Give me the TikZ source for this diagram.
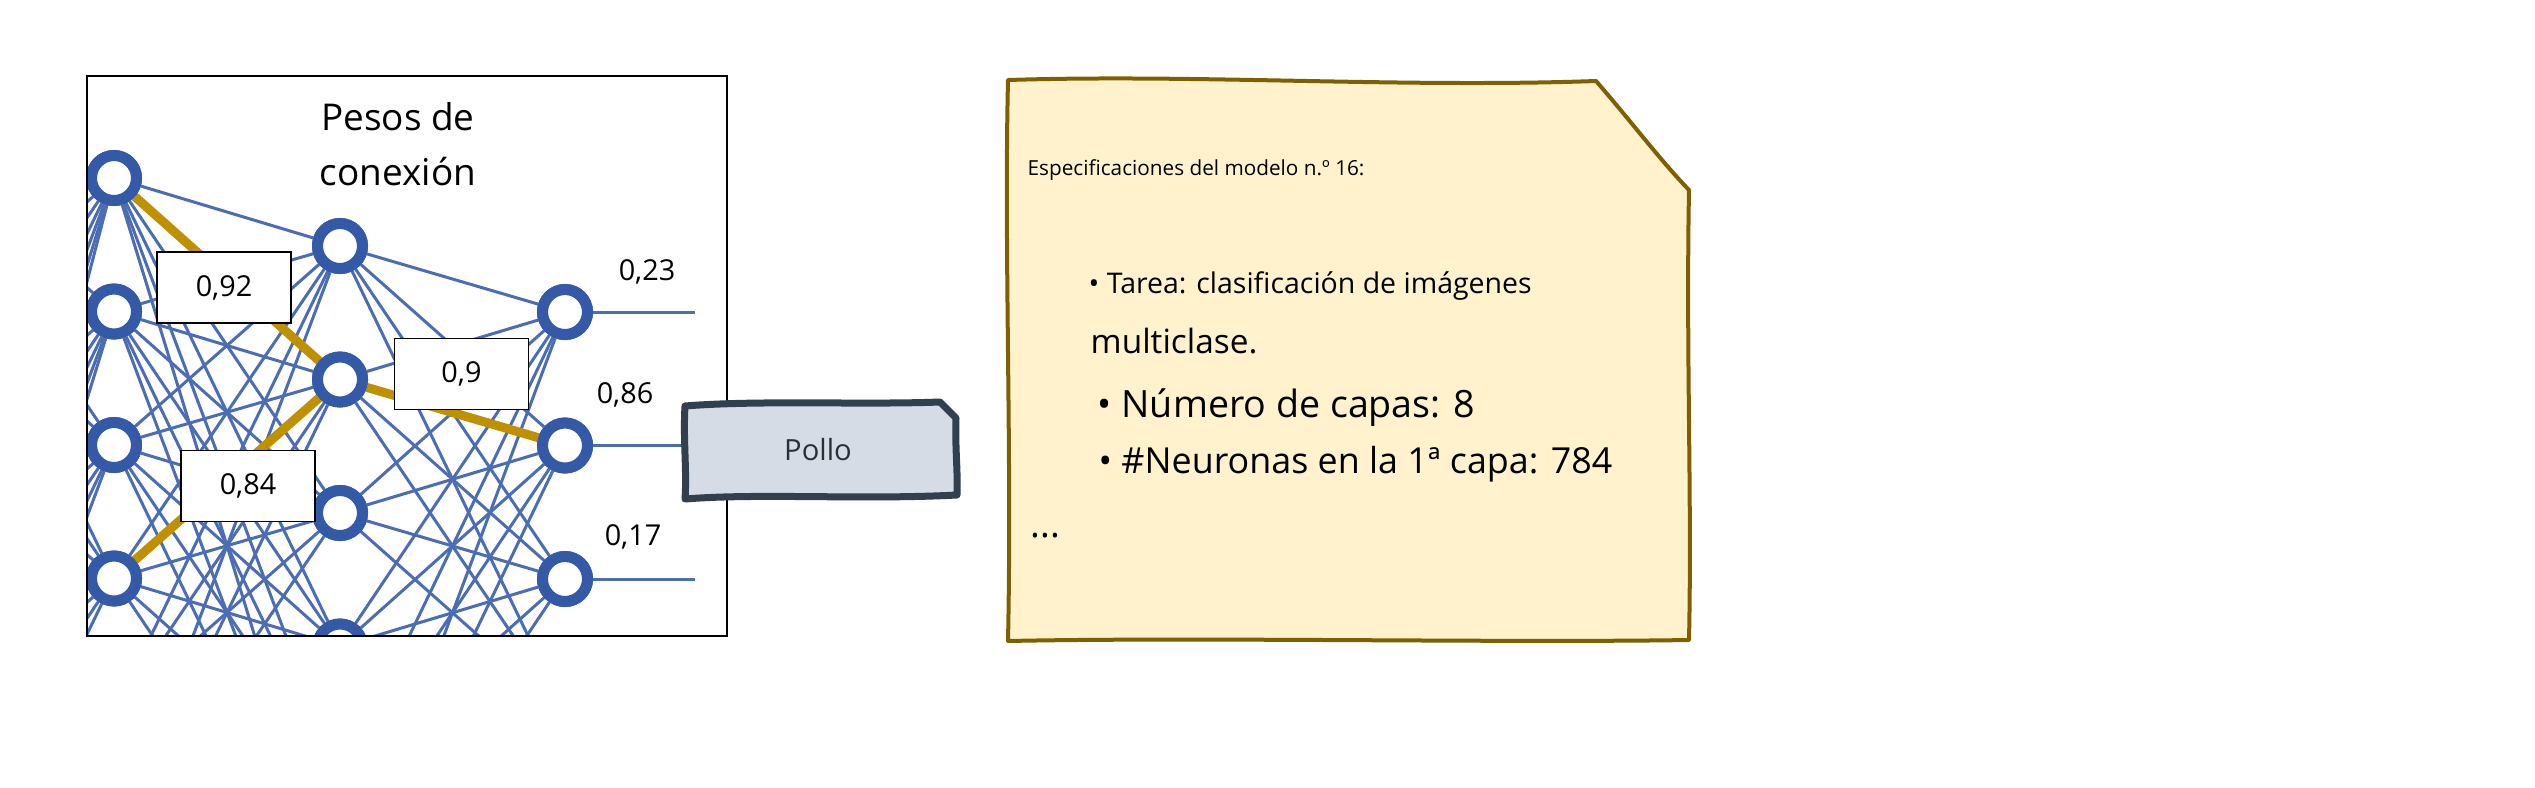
\documentclass[tikz,border=0pt]{standalone}
\usepackage{fontspec}
\setmainfont{Open Sans}
\definecolor{ringblue}{HTML}{3459A6}
\definecolor{edgeblue}{HTML}{4B6DB4}
\definecolor{goldc}{HTML}{BF9000}
\definecolor{pollofill}{HTML}{D6DCE5}
\definecolor{polloline}{HTML}{323F4F}
\definecolor{pollotext}{HTML}{2B2F36}
\definecolor{notefill}{HTML}{FFF2CC}
\definecolor{noteline}{HTML}{7F6000}
\begin{document}
\begin{tikzpicture}[x=0.1mm,y=-0.1mm,
  neuron/.style={circle,draw=ringblue,line width=1.1mm,fill=white,minimum size=4.5mm,inner sep=0pt},
  edge/.style={draw=edgeblue,line width=0.3mm},
  goldedge/.style={draw=goldc,line width=0.9mm},
  weightbox/.style={draw=black,line width=0.15mm,fill=white,minimum width=13.4mm,minimum height=7.1mm,inner sep=0pt,font=\fontsize{8.2}{10}\selectfont},
  outlabel/.style={inner sep=0pt,font=\fontsize{8.2}{10}\selectfont},
  notetext/.style={anchor=base west,inner sep=0pt}]
\useasboundingbox (0,0) rectangle (2535,787);
\fill[white] (0,0) rectangle (2535,787);

% ---------- network (clipped to frame) ----------
\begin{scope}
\clip (87,76) rectangle (727,636);
\foreach \k in {0,...,7} \node[neuron] (n0-\k) at (-112,111+133.5*\k) {};
\foreach \k in {0,...,5} \node[neuron] (n1-\k) at (114,178+133.5*\k) {};
\foreach \k in {0,...,5} \node[neuron] (n2-\k) at (340,246+133.5*\k) {};
\foreach \k in {0,...,3} \node[neuron] (n3-\k) at (565,312+133.5*\k) {};
\foreach \i in {0,...,7} \foreach \j in {0,...,5} \draw[edge] (n0-\i) -- (n1-\j);
\foreach \i in {0,...,5} \foreach \j in {0,...,5} \draw[edge] (n1-\i) -- (n2-\j);
\foreach \i in {0,...,5} \foreach \j in {0,...,3} \draw[edge] (n2-\i) -- (n3-\j);
\draw[goldedge] (n1-0) -- (n2-1);
\draw[goldedge] (n1-3) -- (n2-1);
\draw[goldedge] (n2-1) -- (n3-1);
\coordinate (o0) at (695,312);
\coordinate (o2) at (695,579);
\draw[edge] (n3-0) -- (o0);
\draw[edge] (n3-1) -- (695,445.5);
\draw[edge] (n3-2) -- (o2);
\foreach \k in {0,...,7} \node[neuron] at (n0-\k) {};
\foreach \k in {0,...,5} \node[neuron] at (n1-\k) {};
\foreach \k in {0,...,5} \node[neuron] at (n2-\k) {};
\foreach \k in {0,...,3} \node[neuron] at (n3-\k) {};
\end{scope}
\draw[black,line width=0.2mm] (87,76) rectangle (727,636);

\node[anchor=base,align=center,inner sep=0pt,font=\fontsize{10.5}{15.6}\selectfont] (title) at (398,185) {Pesos de\\conexión};

\node[weightbox] (w1) at (224,287.5) {0,92};
\node[weightbox] (w2) at (461.5,374) {0,9};
\node[weightbox] (w3) at (248,486) {0,84};

\node[outlabel] (l0) at (647,272) {0,23};
\node[outlabel] (l1) at (625,395) {0,86};
\node[outlabel] (l2) at (633,537) {0,17};

% ---------- Pollo ----------
\filldraw[fill=pollofill,draw=polloline,line width=0.7mm,line join=round]
  (685,406) .. controls (760,400) and (860,405) .. (940,402) -- (956,418)
  .. controls (955,450) and (958,472) .. (957,495)
  .. controls (860,500) and (760,493) .. (685,499)
  .. controls (687,470) and (683,440) .. cycle;
\node[inner sep=0pt,minimum width=27.2mm,minimum height=9.3mm,text=pollotext,font=\fontsize{8.3}{10}\selectfont] (pollo) at (818,450) {Pollo};

% ---------- note ----------
\filldraw[fill=notefill,draw=noteline,line width=0.4mm,line join=round]
  (1008,80) .. controls (1200,74) and (1400,88) .. (1596,81)
  .. controls (1630,120) and (1660,160) .. (1689,190)
  .. controls (1686,350) and (1692,500) .. (1689,640)
  .. controls (1500,643) and (1200,637) .. (1008,641)
  .. controls (1012,450) and (1004,250) .. cycle;
\node[notetext,font=\fontsize{5.9}{7}\selectfont] (spec) at (1027,175) {Especificaciones del modelo n.º 16:};
\node[notetext,font=\fontsize{8.1}{9.5}\selectfont] (tarea) at (1088,293) {• Tarea: clasificación de imágenes};
\node[notetext,font=\fontsize{9.5}{11}\selectfont] (multi) at (1090,353) {multiclase.};
\node[notetext,font=\fontsize{10.7}{13}\selectfont] (capas) at (1097,417) {• Número de capas: 8};
\node[notetext,font=\fontsize{10.2}{12}\selectfont] (neur) at (1098,473) {• \#Neuronas en la 1ª capa: 784};
\node[notetext,font=\fontsize{10.5}{13}\selectfont] (dots) at (1030,537) {...};
\end{tikzpicture}
\end{document}
